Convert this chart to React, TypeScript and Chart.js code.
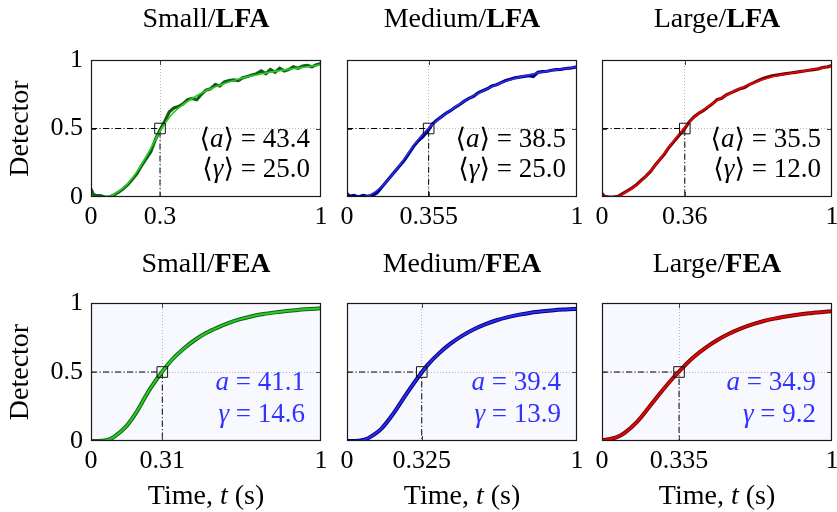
import React, { useEffect, useRef } from "react";
import { Chart, registerables } from "chart.js";

Chart.register(...registerables);

const FONT = '"Liberation Serif", "DejaVu Serif", serif';
const FS_TICK = 26;
const FS_TITLE = 28;
const FS_NOTE = 27;

// ---------- panel meta ----------
const SIZES = ["Small/", "Medium/", "Large/", "Small/", "Medium/", "Large/"];
const METHODS = ["LFA", "LFA", "LFA", "FEA", "FEA", "FEA"];
const HALF_TIMES = [0.3, 0.355, 0.36, 0.31, 0.325, 0.335];
const HALF_LABELS = ["0.3", "0.355", "0.36", "0.31", "0.325", "0.335"];
const A_VALUES = ["43.4", "38.5", "35.5", "41.1", "39.4", "34.9"];
const GAMMA_VALUES = ["25.0", "25.0", "12.0", "14.6", "13.9", "9.2"];
const Y_TICKS = [0, 0.5, 1];
const X_BOUNDS = [0, 1];

const BRIGHT = ["rgb(40,205,40)", "rgb(45,45,235)", "rgb(225,10,10)"];
const DARK = ["rgb(20,95,20)", "rgb(0,0,130)", "rgb(115,0,0)"];

// ---------- measured (noisy) LFA curves ----------
const T_SMALL_LFA = [0, 0.01, 0.02, 0.04, 0.06, 0.08, 0.1, 0.12, 0.14, 0.16, 0.18, 0.2, 0.22, 0.24, 0.26, 0.28, 0.3, 0.32, 0.34, 0.36, 0.38, 0.4, 0.42, 0.44, 0.46, 0.48, 0.5, 0.52, 0.54, 0.56, 0.58, 0.6, 0.62, 0.64, 0.66, 0.68, 0.7, 0.72, 0.74, 0.76, 0.78, 0.8, 0.82, 0.84, 0.86, 0.88, 0.9, 0.92, 0.94, 0.96, 0.98, 1];
const Y_SMALL_LFA = [0.06, 0.02, 0.012, 0.01, 0.0, 0.0, 0.015, 0.035, 0.06, 0.09, 0.13, 0.17, 0.23, 0.28, 0.33, 0.42, 0.49, 0.55, 0.62, 0.65, 0.66, 0.68, 0.71, 0.72, 0.71, 0.75, 0.78, 0.79, 0.82, 0.81, 0.84, 0.85, 0.855, 0.85, 0.87, 0.88, 0.89, 0.9, 0.92, 0.9, 0.93, 0.91, 0.94, 0.92, 0.93, 0.95, 0.94, 0.955, 0.96, 0.95, 0.965, 0.975];

const T_MEDIUM_LFA = [0, 0.01, 0.03, 0.05, 0.07, 0.09, 0.11, 0.13, 0.15, 0.17, 0.19, 0.21, 0.23, 0.25, 0.27, 0.29, 0.31, 0.33, 0.355, 0.37, 0.39, 0.41, 0.43, 0.45, 0.47, 0.49, 0.51, 0.53, 0.55, 0.57, 0.59, 0.61, 0.63, 0.65, 0.67, 0.69, 0.71, 0.73, 0.75, 0.77, 0.79, 0.81, 0.83, 0.85, 0.87, 0.89, 0.91, 0.93, 0.95, 0.97, 1];
const Y_MEDIUM_LFA = [0.025, 0.005, 0.012, 0.0, 0.012, 0.005, 0.012, 0.03, 0.07, 0.11, 0.15, 0.19, 0.23, 0.27, 0.32, 0.37, 0.41, 0.44, 0.49, 0.53, 0.56, 0.585, 0.61, 0.63, 0.655, 0.675, 0.7, 0.72, 0.735, 0.76, 0.775, 0.79, 0.81, 0.82, 0.835, 0.85, 0.86, 0.87, 0.875, 0.88, 0.885, 0.88, 0.91, 0.915, 0.918, 0.925, 0.93, 0.932, 0.938, 0.94, 0.95];

const T_LARGE_LFA = [0, 0.01, 0.03, 0.05, 0.07, 0.09, 0.11, 0.13, 0.15, 0.17, 0.19, 0.21, 0.23, 0.25, 0.27, 0.29, 0.31, 0.33, 0.36, 0.38, 0.4, 0.42, 0.44, 0.46, 0.48, 0.5, 0.52, 0.54, 0.56, 0.58, 0.6, 0.62, 0.64, 0.66, 0.68, 0.7, 0.72, 0.74, 0.76, 0.78, 0.8, 0.82, 0.84, 0.86, 0.88, 0.9, 0.92, 0.94, 0.96, 0.98, 1];
const Y_LARGE_LFA = [0.025, 0.005, 0.0, 0.0, 0.005, 0.025, 0.045, 0.065, 0.09, 0.12, 0.15, 0.185, 0.23, 0.27, 0.31, 0.36, 0.4, 0.44, 0.5, 0.55, 0.585, 0.61, 0.63, 0.655, 0.68, 0.71, 0.72, 0.745, 0.76, 0.775, 0.79, 0.8, 0.82, 0.835, 0.85, 0.865, 0.875, 0.885, 0.89, 0.895, 0.9, 0.905, 0.91, 0.915, 0.92, 0.925, 0.93, 0.935, 0.945, 0.95, 0.96];

// ---------- smooth curves (LFA fits and FEA) ----------
const T_SMOOTH = [0, 0.05, 0.08, 0.1, 0.15, 0.2, 0.25, 0.3, 0.35, 0.4, 0.45, 0.5, 0.55, 0.6, 0.65, 0.7, 0.75, 0.8, 0.85, 0.9, 0.95, 1];
const Y_SMALL_LFA_FIT = [0, 0, 0.005, 0.02, 0.08, 0.185, 0.325, 0.48, 0.6, 0.675, 0.73, 0.775, 0.81, 0.84, 0.865, 0.885, 0.902, 0.917, 0.93, 0.942, 0.953, 0.965];
const Y_MEDIUM_LFA_FIT = [0, 0, 0.004, 0.015, 0.075, 0.17, 0.28, 0.4, 0.495, 0.57, 0.632, 0.69, 0.738, 0.782, 0.82, 0.85, 0.875, 0.895, 0.912, 0.926, 0.938, 0.95];
const Y_LARGE_LFA_FIT = [0, 0, 0.01, 0.03, 0.085, 0.17, 0.27, 0.385, 0.49, 0.58, 0.648, 0.705, 0.752, 0.792, 0.828, 0.858, 0.882, 0.898, 0.912, 0.926, 0.94, 0.956];

const Y_SMALL_FEA = [0, 0.002, 0.012, 0.03, 0.1, 0.215, 0.36, 0.48, 0.585, 0.665, 0.73, 0.782, 0.822, 0.856, 0.883, 0.904, 0.92, 0.932, 0.942, 0.95, 0.956, 0.962];
const Y_MEDIUM_FEA = [0, 0.002, 0.012, 0.028, 0.09, 0.195, 0.32, 0.44, 0.55, 0.635, 0.705, 0.762, 0.808, 0.845, 0.875, 0.898, 0.916, 0.93, 0.94, 0.948, 0.953, 0.957];
const Y_LARGE_FEA = [0.004, 0.02, 0.04, 0.06, 0.135, 0.235, 0.34, 0.44, 0.53, 0.61, 0.675, 0.73, 0.775, 0.812, 0.843, 0.868, 0.887, 0.902, 0.915, 0.925, 0.933, 0.94];

const RAW_T = [T_SMALL_LFA, T_MEDIUM_LFA, T_LARGE_LFA, T_SMOOTH, T_SMOOTH, T_SMOOTH];
const RAW_Y = [Y_SMALL_LFA, Y_MEDIUM_LFA, Y_LARGE_LFA, Y_SMALL_FEA, Y_MEDIUM_FEA, Y_LARGE_FEA];
const FIT_Y = [Y_SMALL_LFA_FIT, Y_MEDIUM_LFA_FIT, Y_LARGE_LFA_FIT, Y_SMALL_FEA, Y_MEDIUM_FEA, Y_LARGE_FEA];

// ---------- layout ----------
const PLOT_LEFT = [91, 347, 602];
const PLOT_W = 230;
const PLOT_TOP = [60, 303];
const PLOT_H = [137, 138];
const PAD_T = 60;
const PAD_R = 14;
const PAD_B = 71;

type Seg = [string, string];

function drawRich(ctx: CanvasRenderingContext2D, segs: Seg[], x: number, y: number, align: string, color: string, size: number) {
  const fonts = segs.map(([, s]) => (s === "b" ? "bold " : s === "i" ? "italic " : "") + size + "px " + FONT);
  const widths = segs.map(([t], i) => {
    ctx.font = fonts[i];
    return ctx.measureText(t).width;
  });
  const total = widths.reduce((a, b) => a + b, 0);
  let cx = align === "left" ? x : align === "center" ? x - total / 2 : x - total;
  ctx.textBaseline = "middle";
  ctx.textAlign = "left";
  ctx.fillStyle = color;
  segs.forEach(([t], i) => {
    ctx.font = fonts[i];
    ctx.fillText(t, cx, y);
    cx += widths[i];
  });
}

function Panel({ idx }: { idx: number }) {
  const ref = useRef<HTMLCanvasElement>(null);
  const col = idx % 3;
  const row = Math.floor(idx / 3);
  const padL = col === 0 ? 91 : 22;
  const w = padL + PLOT_W + PAD_R;
  const h = PAD_T + PLOT_H[row] + PAD_B;
  const left = PLOT_LEFT[col] - padL;
  const top = PLOT_TOP[row] - PAD_T;

  useEffect(() => {
    const th = HALF_TIMES[idx];
    const raw = RAW_T[idx].map((t, i) => ({ x: t, y: RAW_Y[idx][i] }));
    const fit = T_SMOOTH.map((t, i) => ({ x: t, y: FIT_Y[idx][i] }));
    const smooth = row === 1;

    const decor = {
      id: "decor" + idx,
      beforeDraw(chart: any) {
        const { ctx, chartArea: a } = chart;
        if (row === 1) {
          ctx.save();
          ctx.fillStyle = "#f8f8ff";
          ctx.fillRect(a.left, a.top, a.right - a.left, a.bottom - a.top);
          ctx.restore();
        }
      },
      afterDatasetsDraw(chart: any) {
        const { ctx, chartArea: a, scales } = chart;
        const xs = scales.x;
        const ys = scales.y;
        ctx.save();
        ctx.strokeStyle = "#444";
        ctx.lineWidth = 1;
        const px = Math.round(xs.getPixelForValue(th)) + 0.5;
        const py = Math.round(ys.getPixelForValue(0.5)) + 0.5;
        ctx.beginPath();
        ctx.moveTo(px, a.top);
        ctx.lineTo(px, a.top + 5);
        ctx.moveTo(px, a.bottom);
        ctx.lineTo(px, a.bottom - 5);
        ctx.moveTo(a.left, py);
        ctx.lineTo(a.left + 5, py);
        ctx.moveTo(a.right, py);
        ctx.lineTo(a.right - 5, py);
        ctx.stroke();
        ctx.strokeStyle = "#1a1a1a";
        ctx.lineWidth = 1.2;
        ctx.strokeRect(a.left + 0.5, a.top + 0.5, a.right - a.left - 1, a.bottom - a.top - 1);
        ctx.restore();
      },
      afterDraw(chart: any) {
        const { ctx, chartArea: a } = chart;
        ctx.save();
        const cxm = (a.left + a.right) / 2;
        drawRich(ctx, [[SIZES[idx], "n"], [METHODS[idx], "b"]], cxm, a.top - (row === 0 ? 40 : 38), "center", "#000", FS_TITLE);
        if (row === 0) {
          const rx = a.right - 11;
          drawRich(ctx, [["\u27E8", "n"], ["a", "i"], ["\u27E9 = " + A_VALUES[idx], "n"]], rx, a.top + 80, "right", "#000", FS_NOTE);
          drawRich(ctx, [["\u27E8", "n"], ["\u03B3", "i"], ["\u27E9 = " + GAMMA_VALUES[idx], "n"]], rx, a.top + 110, "right", "#000", FS_NOTE);
        } else {
          const rx = a.right - 16;
          const blue = "#3232ff";
          drawRich(ctx, [["a", "i"], [" = " + A_VALUES[idx], "n"]], rx, a.top + 80, "right", blue, FS_NOTE);
          drawRich(ctx, [["\u03B3", "i"], [" = " + GAMMA_VALUES[idx], "n"]], rx, a.top + 112, "right", blue, FS_NOTE);
          drawRich(ctx, [["Time, ", "n"], ["t", "i"], [" (s)", "n"]], cxm, a.bottom + 56, "center", "#000", FS_TITLE);
        }
        if (col === 0) {
          ctx.translate(21, (a.top + a.bottom) / 2);
          ctx.rotate(-Math.PI / 2);
          drawRich(ctx, [["Detector", "n"]], 0, 0, "center", "#000", FS_TITLE);
        }
        ctx.restore();
      },
    };

    const chart = new Chart(ref.current as HTMLCanvasElement, {
      type: "line",
      data: {
        datasets: [
          {
            data: [{ x: th, y: 0.5 }],
            showLine: false,
            pointStyle: "rect",
            pointRadius: 7.5,
            pointBackgroundColor: "rgba(0,0,0,0)",
            pointBorderColor: "#111",
            pointBorderWidth: 1,
            order: 0,
          } as any,
          {
            data: fit,
            borderColor: BRIGHT[col],
            borderWidth: smooth ? 2 : 1.6,
            pointRadius: 0,
            cubicInterpolationMode: "monotone",
            order: 1,
          },
          {
            data: raw,
            borderColor: DARK[col],
            borderWidth: smooth ? 4 : 3.2,
            pointRadius: 0,
            tension: 0,
            cubicInterpolationMode: smooth ? "monotone" : "default",
            order: 2,
          },
          {
            data: [{ x: X_BOUNDS[0], y: 0.5 }, { x: th, y: 0.5 }, { x: th, y: 0 }],
            borderColor: "#000",
            borderWidth: 1,
            borderDash: [6, 2.5, 1, 2.5],
            pointRadius: 0,
            order: 3,
          },
        ],
      },
      options: {
        animation: false,
        responsive: false,
        devicePixelRatio: 1,
        events: [],
        layout: { padding: { top: PAD_T, right: PAD_R, left: 0, bottom: 0 } },
        plugins: { legend: { display: false }, tooltip: { enabled: false }, title: { display: false } },
        scales: {
          x: {
            type: "linear",
            min: X_BOUNDS[0],
            max: X_BOUNDS[1],
            afterBuildTicks: (s: any) => {
              s.ticks = [X_BOUNDS[0], th, X_BOUNDS[1]].map((v) => ({ value: v }));
            },
            afterFit: (s: any) => {
              s.height = PAD_B;
              s.paddingLeft = 0;
              s.paddingRight = 0;
            },
            ticks: {
              autoSkip: false,
              maxRotation: 0,
              minRotation: 0,
              padding: 5,
              color: "#000",
              font: { family: FONT, size: FS_TICK },
              callback: (v: any) => (v === th ? HALF_LABELS[idx] : String(v)),
            },
            grid: {
              drawTicks: false,
              lineWidth: 1,
              color: (c: any) => (c.tick && c.tick.value === th ? "rgba(175,175,175,0.9)" : "rgba(0,0,0,0)"),
            },
            border: { display: false, dash: [1, 2] },
          },
          y: {
            type: "linear",
            min: 0,
            max: 1,
            afterBuildTicks: (s: any) => {
              s.ticks = Y_TICKS.map((v) => ({ value: v }));
            },
            afterFit: (s: any) => {
              s.width = padL;
              s.paddingTop = 0;
              s.paddingBottom = 0;
            },
            ticks: {
              display: col === 0,
              padding: 8,
              color: "#000",
              font: { family: FONT, size: FS_TICK },
              callback: (v: any) => String(v),
            },
            grid: {
              drawTicks: false,
              lineWidth: 1,
              color: (c: any) => (c.tick && c.tick.value === 0.5 ? "rgba(175,175,175,0.9)" : "rgba(0,0,0,0)"),
            },
            border: { display: false, dash: [1, 2] },
          },
        },
      } as any,
      plugins: [decor],
    });
    return () => chart.destroy();
  }, []);

  return (
    <canvas
      ref={ref}
      width={w}
      height={h}
      style={{ position: "absolute", left, top, width: w, height: h }}
    />
  );
}

export default function App() {
  return (
    <div style={{ position: "fixed", left: 0, top: 0, width: 837, height: 512, background: "#fff", overflow: "hidden" }}>
      {[0, 1, 2, 3, 4, 5].map((i) => (
        <Panel key={i} idx={i} />
      ))}
    </div>
  );
}
